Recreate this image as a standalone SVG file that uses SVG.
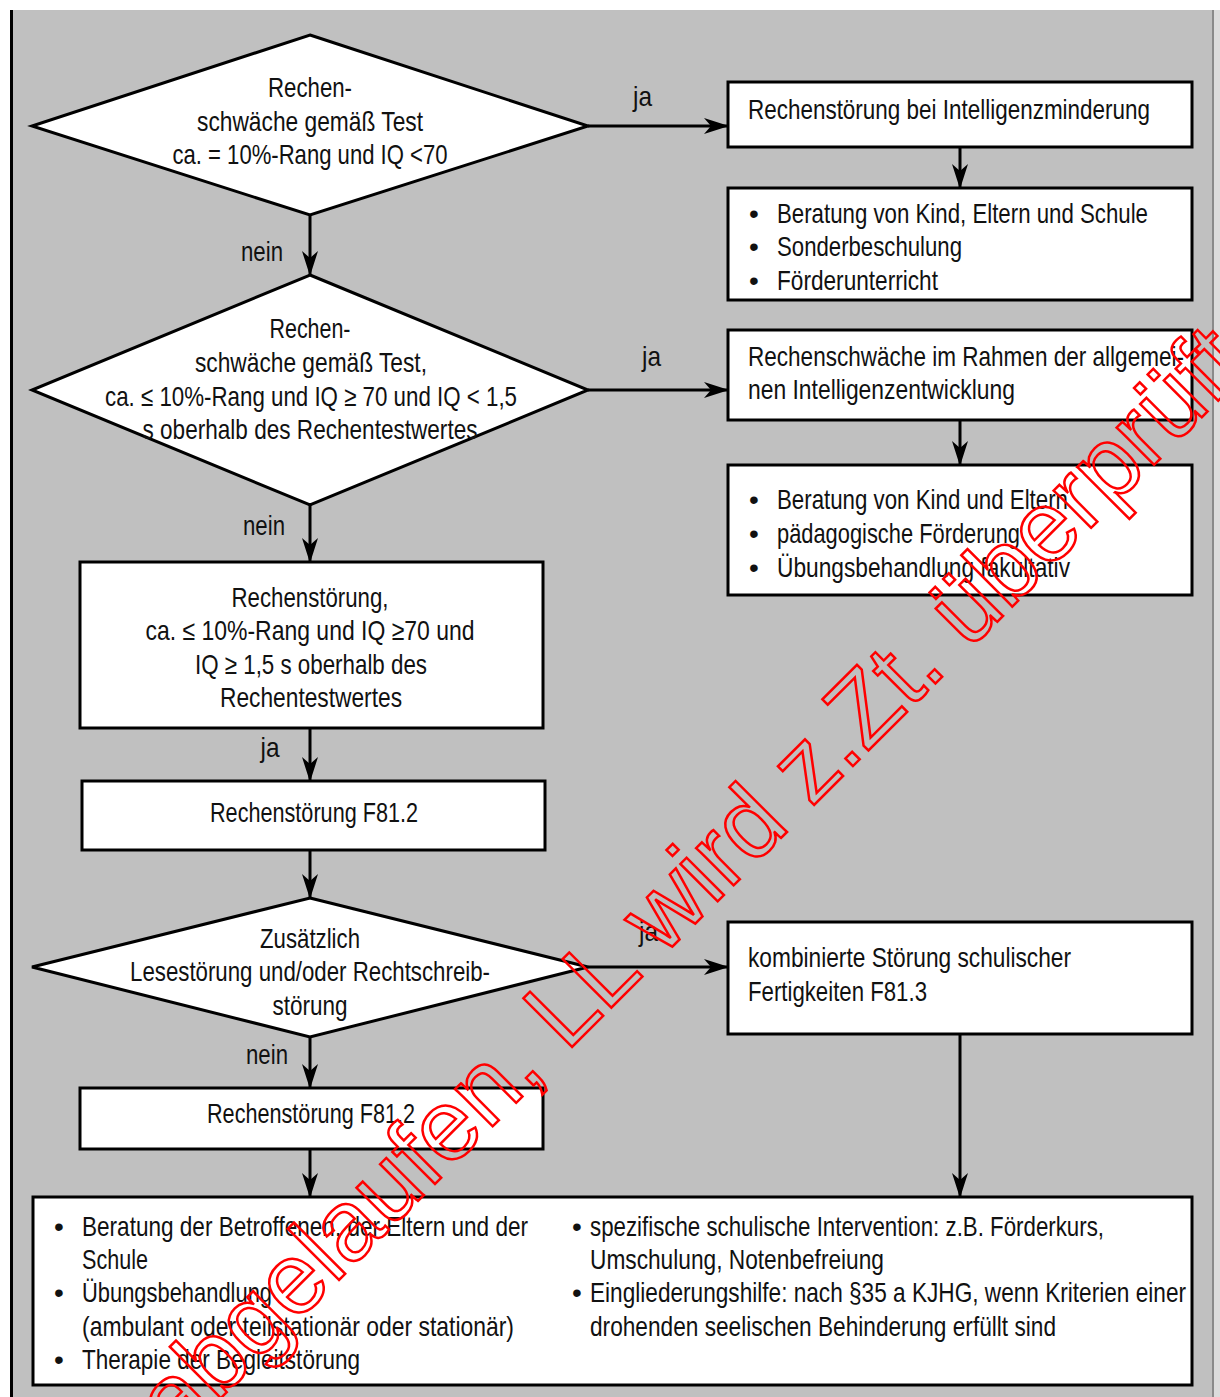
<svg xmlns="http://www.w3.org/2000/svg" width="1220" height="1397" viewBox="0 0 1220 1397">
  <style>
    .t { font-family: "Liberation Sans", Arial, sans-serif; font-size: 28px; fill: #111; }
    .c { text-anchor: middle; }
    .box { fill: #fff; stroke: #000; stroke-width: 3; }
    .dia { fill: #fff; stroke: #000; stroke-width: 3; stroke-linejoin: miter; }
    .edge { fill: none; stroke: #000; stroke-width: 3; marker-end: url(#arrow); }
    .wm { font-family: "Liberation Sans", Arial, sans-serif; font-size: 100px; fill: none; stroke: #ff0000; stroke-width: 2.5; }
  </style>
  <defs>
    <marker id="arrow" viewBox="0 0 26 20" refX="25" refY="10" markerWidth="26" markerHeight="20" markerUnits="userSpaceOnUse" orient="auto">
      <path d="M26,10 L1,2 L8,10 L1,18 Z" fill="#000"/>
    </marker>
  </defs>

  <!-- page and grey panel -->
  <rect x="0" y="0" width="1220" height="1397" fill="#fff"/>
  <rect x="11" y="10" width="1202" height="1387" fill="#c0c0c0"/>
  <line x1="11.5" y1="10" x2="11.5" y2="1397" stroke="#000" stroke-width="3"/>
  <line x1="1213" y1="10" x2="1213" y2="1397" stroke="#8a8a8a" stroke-width="2"/>
  <rect x="1214" y="10" width="6" height="1387" fill="#dcdcdc"/>

  <!-- connectors -->
  <g id="connectors">
    <line class="edge" x1="588" y1="126" x2="728" y2="126"/>
    <line class="edge" x1="960" y1="147" x2="960" y2="188"/>
    <line class="edge" x1="310" y1="215" x2="310" y2="275"/>
    <line class="edge" x1="588" y1="390" x2="728" y2="390"/>
    <line class="edge" x1="960" y1="420" x2="960" y2="465"/>
    <line class="edge" x1="310" y1="505" x2="310" y2="562"/>
    <line class="edge" x1="310" y1="728" x2="310" y2="781"/>
    <line class="edge" x1="310" y1="850" x2="310" y2="898"/>
    <line class="edge" x1="588" y1="967" x2="728" y2="967"/>
    <line class="edge" x1="960" y1="1034" x2="960" y2="1197"/>
    <line class="edge" x1="310" y1="1037" x2="310" y2="1088"/>
    <line class="edge" x1="310" y1="1149" x2="310" y2="1197"/>
    <text class="t" x="633" y="106" textLength="19" lengthAdjust="spacingAndGlyphs">ja</text>
    <text class="t c" x="262" y="261" textLength="42" lengthAdjust="spacingAndGlyphs">nein</text>
    <text class="t" x="642" y="366" textLength="19" lengthAdjust="spacingAndGlyphs">ja</text>
    <text class="t c" x="264" y="535" textLength="42" lengthAdjust="spacingAndGlyphs">nein</text>
    <text class="t c" x="270" y="757" textLength="19" lengthAdjust="spacingAndGlyphs">ja</text>
    <text class="t" x="639" y="941" textLength="19" lengthAdjust="spacingAndGlyphs">ja</text>
    <text class="t c" x="267" y="1064" textLength="42" lengthAdjust="spacingAndGlyphs">nein</text>
  </g>

  <!-- decision 1 -->
  <g id="d1">
    <polygon class="dia" points="310,35 588,126 310,215 32,126"/>
    <text class="t c" x="310" y="97" textLength="84" lengthAdjust="spacingAndGlyphs">Rechen-</text>
    <text class="t c" x="310" y="131" textLength="226" lengthAdjust="spacingAndGlyphs">schwäche gemäß Test</text>
    <text class="t c" x="310" y="164" textLength="275" lengthAdjust="spacingAndGlyphs">ca. = 10%-Rang und IQ &lt;70</text>
  </g>

  <g id="n-intelligenzminderung">
    <rect class="box" x="728" y="82" width="464" height="65"/>
    <text class="t" x="748" y="119" textLength="402" lengthAdjust="spacingAndGlyphs">Rechenstörung bei Intelligenzminderung</text>
  </g>

  <g id="n-massnahmen1">
    <rect class="box" x="728" y="188" width="464" height="112"/>
    <text class="t" x="749" y="223">•</text><text class="t" x="777" y="223" textLength="371" lengthAdjust="spacingAndGlyphs">Beratung von Kind, Eltern und Schule</text>
    <text class="t" x="749" y="256">•</text><text class="t" x="777" y="256" textLength="185" lengthAdjust="spacingAndGlyphs">Sonderbeschulung</text>
    <text class="t" x="749" y="290">•</text><text class="t" x="777" y="290" textLength="161" lengthAdjust="spacingAndGlyphs">Förderunterricht</text>
  </g>

  <!-- decision 2 -->
  <g id="d2">
    <polygon class="dia" points="310,275 588,390 310,505 32,390"/>
    <text class="t c" x="310" y="338" textLength="81" lengthAdjust="spacingAndGlyphs">Rechen-</text>
    <text class="t c" x="311" y="372" textLength="232" lengthAdjust="spacingAndGlyphs">schwäche gemäß Test,</text>
    <text class="t c" x="311" y="406" textLength="412" lengthAdjust="spacingAndGlyphs">ca. ≤ 10%-Rang und IQ ≥ 70 und IQ &lt; 1,5</text>
    <text class="t c" x="310" y="439" textLength="335" lengthAdjust="spacingAndGlyphs">s oberhalb des Rechentestwertes</text>
  </g>

  <g id="n-rahmen">
    <rect class="box" x="728" y="330" width="464" height="90"/>
    <text class="t" x="748" y="366" textLength="436" lengthAdjust="spacingAndGlyphs">Rechenschwäche im Rahmen der allgemei-</text>
    <text class="t" x="748" y="399" textLength="267" lengthAdjust="spacingAndGlyphs">nen Intelligenzentwicklung</text>
  </g>

  <g id="n-massnahmen2">
    <rect class="box" x="728" y="465" width="464" height="130"/>
    <text class="t" x="749" y="509">•</text><text class="t" x="777" y="509" textLength="291" lengthAdjust="spacingAndGlyphs">Beratung von Kind und Eltern</text>
    <text class="t" x="749" y="543">•</text><text class="t" x="777" y="543" textLength="243" lengthAdjust="spacingAndGlyphs">pädagogische Förderung</text>
    <text class="t" x="749" y="577">•</text><text class="t" x="777" y="577" textLength="293" lengthAdjust="spacingAndGlyphs">Übungsbehandlung fakultativ</text>
  </g>

  <g id="n-rechenstoerung-kriterien">
    <rect class="box" x="80" y="562" width="463" height="166"/>
    <text class="t c" x="310" y="607" textLength="157" lengthAdjust="spacingAndGlyphs">Rechenstörung,</text>
    <text class="t c" x="310" y="640" textLength="329" lengthAdjust="spacingAndGlyphs">ca. ≤ 10%-Rang und IQ ≥70 und</text>
    <text class="t c" x="311" y="674" textLength="232" lengthAdjust="spacingAndGlyphs">IQ ≥ 1,5 s oberhalb des</text>
    <text class="t c" x="311" y="707" textLength="182" lengthAdjust="spacingAndGlyphs">Rechentestwertes</text>
  </g>

  <g id="n-f812-a">
    <rect class="box" x="82" y="781" width="463" height="69"/>
    <text class="t c" x="314" y="822" textLength="208" lengthAdjust="spacingAndGlyphs">Rechenstörung F81.2</text>
  </g>

  <!-- decision 3 -->
  <g id="d3">
    <polygon class="dia" points="310,898 588,967 310,1037 32,967"/>
    <text class="t c" x="310" y="948" textLength="100" lengthAdjust="spacingAndGlyphs">Zusätzlich</text>
    <text class="t c" x="310" y="981" textLength="360" lengthAdjust="spacingAndGlyphs">Lesestörung und/oder Rechtschreib-</text>
    <text class="t c" x="310" y="1015" textLength="75" lengthAdjust="spacingAndGlyphs">störung</text>
  </g>

  <g id="n-f813">
    <rect class="box" x="728" y="922" width="464" height="112"/>
    <text class="t" x="748" y="967" textLength="323" lengthAdjust="spacingAndGlyphs">kombinierte Störung schulischer</text>
    <text class="t" x="748" y="1001" textLength="179" lengthAdjust="spacingAndGlyphs">Fertigkeiten F81.3</text>
  </g>

  <g id="n-f812-b">
    <rect class="box" x="80" y="1088" width="463" height="61"/>
    <text class="t c" x="311" y="1123" textLength="208" lengthAdjust="spacingAndGlyphs">Rechenstörung F81.2</text>
  </g>

  <g id="n-massnahmen3">
    <rect class="box" x="33" y="1197" width="1159" height="188"/>
    <text class="t" x="54" y="1236">•</text><text class="t" x="82" y="1236" textLength="446" lengthAdjust="spacingAndGlyphs">Beratung der Betroffenen, der Eltern und der</text>
    <text class="t" x="82" y="1269" textLength="66" lengthAdjust="spacingAndGlyphs">Schule</text>
    <text class="t" x="54" y="1302">•</text><text class="t" x="82" y="1302" textLength="190" lengthAdjust="spacingAndGlyphs">Übungsbehandlung</text>
    <text class="t" x="82" y="1336" textLength="432" lengthAdjust="spacingAndGlyphs">(ambulant oder teilstationär oder stationär)</text>
    <text class="t" x="54" y="1369">•</text><text class="t" x="82" y="1369" textLength="278" lengthAdjust="spacingAndGlyphs">Therapie der Begleitstörung</text>
    <text class="t" x="572" y="1236">•</text><text class="t" x="590" y="1236" textLength="514" lengthAdjust="spacingAndGlyphs">spezifische schulische Intervention: z.B. Förderkurs,</text>
    <text class="t" x="590" y="1269" textLength="294" lengthAdjust="spacingAndGlyphs">Umschulung, Notenbefreiung</text>
    <text class="t" x="572" y="1302">•</text><text class="t" x="590" y="1302" textLength="596" lengthAdjust="spacingAndGlyphs">Eingliederungshilfe: nach §35 a KJHG, wenn Kriterien einer</text>
    <text class="t" x="590" y="1336" textLength="466" lengthAdjust="spacingAndGlyphs">drohenden seelischen Behinderung erfüllt sind</text>
  </g>

  <!-- red outlined stamp across the chart -->
  <text class="wm" transform="translate(177,1442) rotate(-45)">abgelaufen, LL wird z.Zt. überprüft</text>
</svg>
